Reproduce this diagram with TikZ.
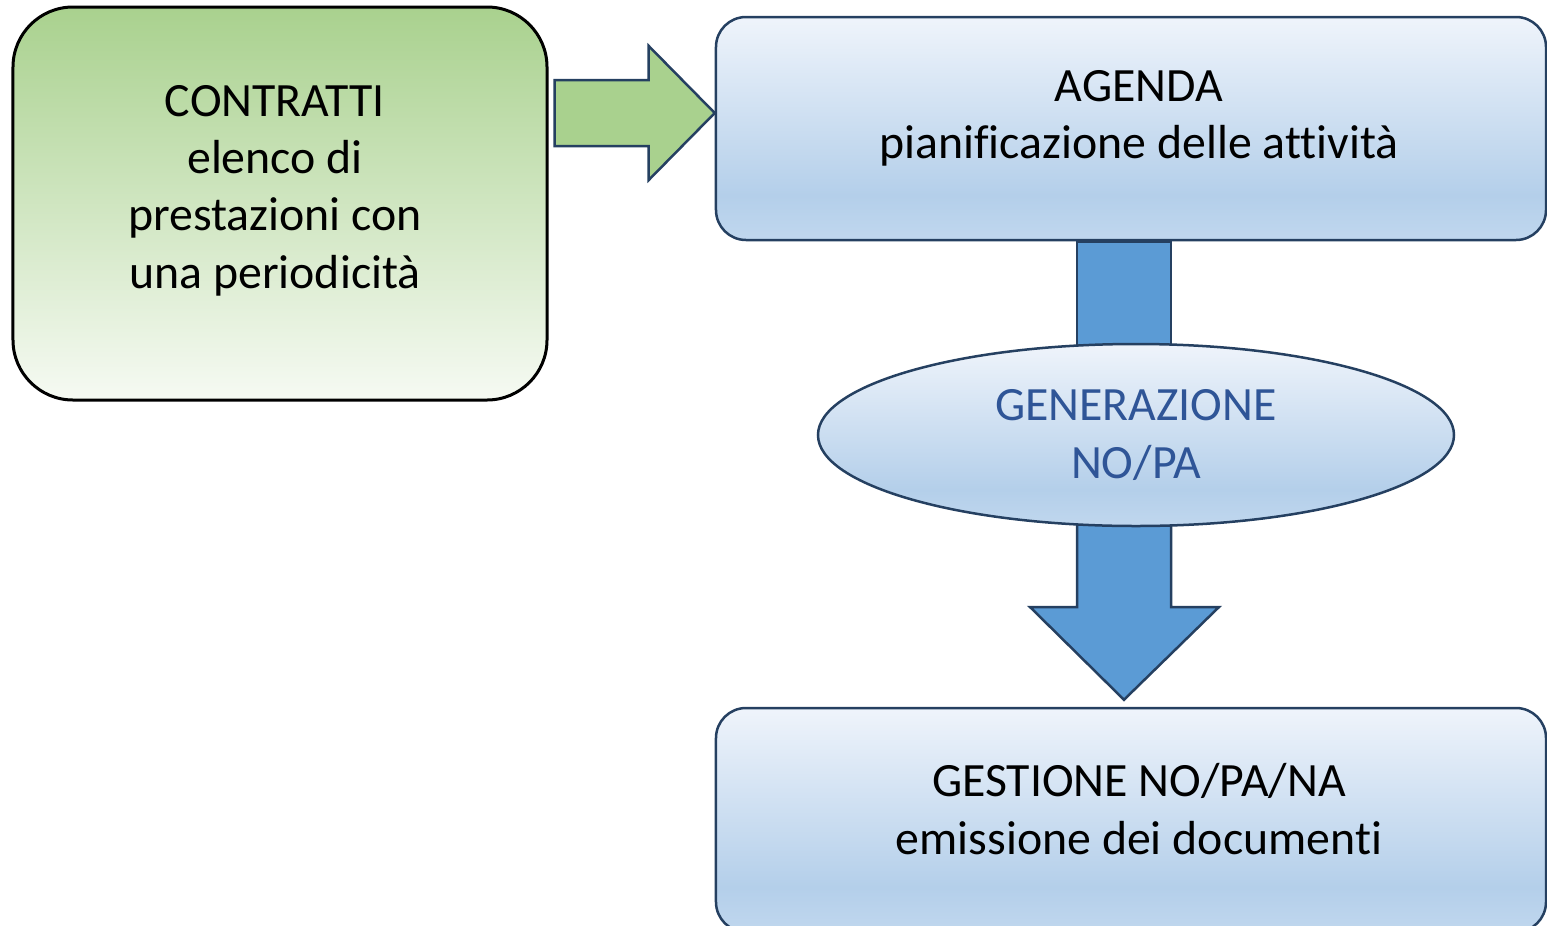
\documentclass[tikz,border=0pt]{standalone}
\usepackage{fontspec}
\setmainfont{Carlito}[Ligatures=NoCommon]
\usetikzlibrary{shapes.geometric, positioning, calc, backgrounds}
\definecolor{greentop}{RGB}{169,209,142}
\definecolor{greenbot}{RGB}{246,250,243}
\definecolor{bluetop}{RGB}{239,244,251}
\definecolor{bluemid}{RGB}{180,207,234}
\definecolor{bluebot}{RGB}{192,215,238}
\definecolor{arrowblue}{RGB}{91,155,213}
\definecolor{arrowgreen}{RGB}{169,209,142}
\definecolor{darkline}{RGB}{37,64,97}
\definecolor{textblue}{RGB}{47,85,151}
\pgfdeclareverticalshading{boxshade}{100bp}{color(0bp)=(bluebot); color(25bp)=(bluebot); color(35bp)=(bluemid); color(75bp)=(bluetop); color(100bp)=(bluetop)}
\newcommand{\diagfont}{\fontsize{27.2}{32.6}\selectfont}

\begin{document}
\begin{tikzpicture}[
        x=0.2mm, y=-0.2mm,
        greenbox/.style={rectangle, draw=black, line width=0.6mm, rounded corners=12mm, top color=greentop, bottom color=greenbot, minimum width=106.8mm, minimum height=78.6mm},
        bluebox/.style={rectangle, draw=darkline, line width=0.5mm, rounded corners=6mm, shading=boxshade, minimum width=166mm},
        genellipse/.style={ellipse, draw=darkline, line width=0.5mm, shading=boxshade, minimum width=127.2mm, minimum height=36.4mm, inner sep=0pt, align=center, text=textblue, font=\diagfont},
        boxtext/.style={align=center, font=\diagfont},
        greenarrow/.style={draw=darkline, line width=0.5mm, fill=arrowgreen},
        bluearrow/.style={draw=darkline, line width=0.5mm, fill=arrowblue}
    ]
        \useasboundingbox (0,0) rectangle (1547,926);

        \node[greenbox] (contratti) at (280,203.5) {};
        \node[bluebox, minimum height=44.6mm] (agenda) at (1131,128.5) {};
        \node[genellipse] (gen) at (1136,435) {GENERAZIONE\\NO/PA};
        \node[bluebox, minimum height=44.8mm] (gestione) at (1131,820) {};

        \node[boxtext] (contratti-txt) at ($(contratti.center)+(-5,-13)$) {CONTRATTI\\elenco di\\prestazioni con\\una periodicità};
        \node[boxtext] (agenda-txt) at ($(agenda.center)+(8,-10)$) {AGENDA\\pianificazione delle attività};
        \node[boxtext] (gestione-txt) at ($(gestione.center)+(8,-11)$) {GESTIONE NO/PA/NA\\emissione dei documenti};

        % block arrow: contratti -> agenda
        \draw[greenarrow, shift={(agenda.west |- 0,113)}] (-160,-33) -- (-66,-33) -- (-66,-67) -- (0,0) -- (-66,67) -- (-66,33) -- (-160,33) -- cycle;

        % blue stem and arrow behind the ellipse
        \begin{scope}[on background layer]
            \draw[bluearrow] (1077,0 |- agenda.south) rectangle (1171,0 |- gen.center);
            \draw[bluearrow] (1077,0 |- gen.center) -- (1077,607) -- (1030,607) -- ($(1124,0 |- gestione.north)+(0,-7)$) -- (1219,607) -- (1171,607) -- (1171,0 |- gen.center);
        \end{scope}
    \end{tikzpicture}
\end{document}
